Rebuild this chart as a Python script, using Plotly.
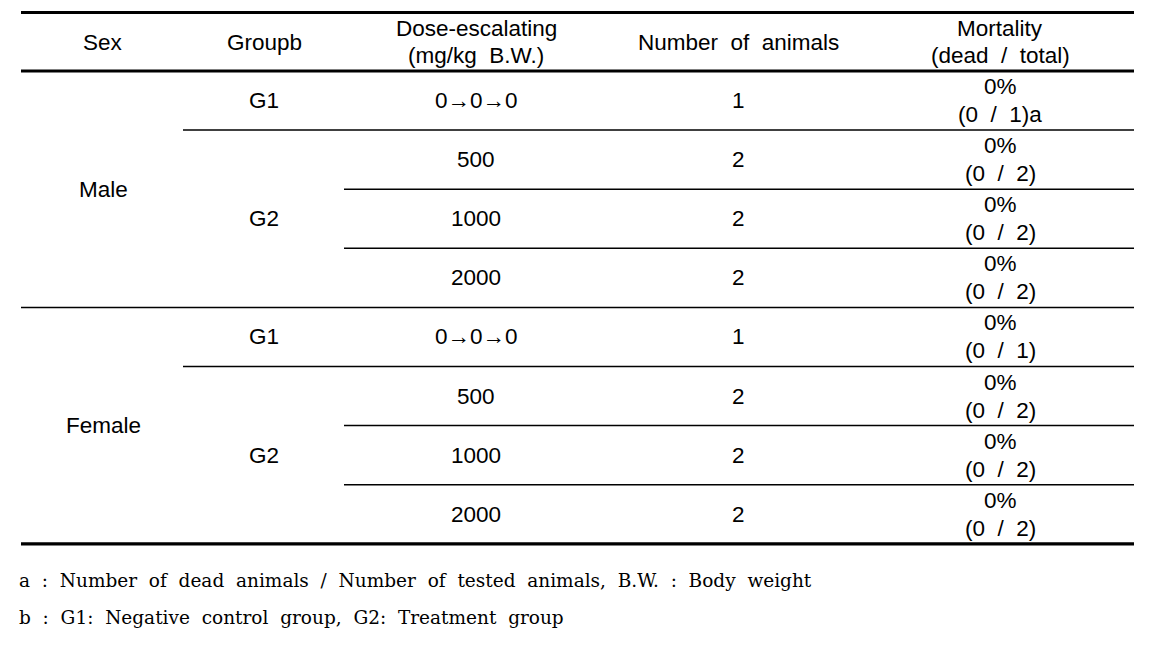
import plotly.graph_objects as go

# ---- data ----
headers = [["Sex"], ["Groupb"], ["Dose-escalating", "(mg/kg  B.W.)"],
           ["Number  of  animals"], ["Mortality", "(dead  /  total)"]]
sexes = ["Male", "Female"]
groups = ["G1", "G2", "G2", "G2"]
doses = ["0\u21920\u21920", "500", "1000", "2000"]
n_animals_male = [1, 2, 2, 2]
n_animals_female = [1, 2, 2, 2]
dead_male = [0, 0, 0, 0]
dead_female = [0, 0, 0, 0]
mortality_pct_male = ["0%", "0%", "0%", "0%"]
mortality_pct_female = ["0%", "0%", "0%", "0%"]
footnote_words = [
    ["a", ":", "Number", "of", "dead", "animals", "/", "Number", "of", "tested",
     "animals,", "B.W.", ":", "Body", "weight"],
    ["b", ":", "G1:", "Negative", "control", "group,", "G2:", "Treatment", "group"],
]

# ---- layout geometry ----
W, H = 1149, 655
OFF = 8  # page body margin
X0, X1 = 21, 1134
col_x = [103, 264, 476, 738, 1000]
y_top = 12.5
y_head = 71
row_h = 59.1
row_edges = [y_head + i * row_h for i in range(9)]
grp_x0 = 183
dose_x0 = 344

FONT = "Liberation Sans, Arial, sans-serif"
FS = 22.5
SERIF = "DejaVu Serif, serif"

fig = go.Figure()
ann = []
shapes = []


def txt(x, y, s, size=FS, family=FONT, xanchor="center"):
    ann.append(dict(x=x, y=y, xref="x", yref="y", text=s, showarrow=False,
                    font=dict(family=family, size=size, color="black"),
                    xanchor=xanchor, yanchor="middle"))


def hline(y, x0, x1, w):
    shapes.append(dict(type="line", xref="x", yref="y", x0=x0, x1=x1, y0=y, y1=y,
                       line=dict(color="black", width=w)))


# header
for cx, lines in zip(col_x, headers):
    if len(lines) == 1:
        txt(cx, 42, lines[0])
    else:
        txt(cx, 28, lines[0])
        txt(cx, 55.5, lines[1])

# body
blocks = [
    (sexes[0], n_animals_male, dead_male, mortality_pct_male, 0, True),
    (sexes[1], n_animals_female, dead_female, mortality_pct_female, 4, False),
]
for sex, nlist, dlist, plist, base, mark_a in blocks:
    top = row_edges[base]
    bot = row_edges[base + 4]
    txt(col_x[0], (top + bot) / 2, sex)
    txt(col_x[1], (row_edges[base] + row_edges[base + 1]) / 2, groups[0])
    txt(col_x[1], (row_edges[base + 1] + bot) / 2, groups[1])
    for i in range(4):
        r0 = row_edges[base + i]
        r1 = row_edges[base + i + 1]
        cy = (r0 + r1) / 2
        txt(col_x[2], cy, doses[i])
        txt(col_x[3], cy, str(nlist[i]))
        txt(col_x[4], r0 + 15.5, plist[i])
        suffix = "a" if (mark_a and i == 0) else ""
        txt(col_x[4], r0 + 43.5, f"({dlist[i]}  /  {nlist[i]}){suffix}")

# lines
hline(y_top, X0, X1, 3.2)
hline(y_head, X0, X1, 3.2)
for base in (0, 4):
    hline(row_edges[base + 1], grp_x0, X1, 1.5)
    hline(row_edges[base + 2], dose_x0, X1, 1.5)
    hline(row_edges[base + 3], dose_x0, X1, 1.5)
hline(row_edges[4], X0, X1, 1.5)
hline(row_edges[8], X0, X1, 3.2)

# footnotes
GAP = " \u00a0"
txt(17, 580, GAP.join(footnote_words[0]), size=18.5, family=SERIF, xanchor="left")
txt(17, 617, GAP.join(footnote_words[1]), size=18.5, family=SERIF, xanchor="left")

fig.update_layout(
    width=W, height=H, margin=dict(l=0, r=0, t=0, b=0),
    paper_bgcolor="white", plot_bgcolor="white",
    xaxis=dict(range=[OFF, W + OFF], visible=False, fixedrange=True),
    yaxis=dict(range=[H + OFF, OFF], visible=False, fixedrange=True),
    annotations=ann, shapes=shapes, showlegend=False,
)
fig.write_html("out.html")
